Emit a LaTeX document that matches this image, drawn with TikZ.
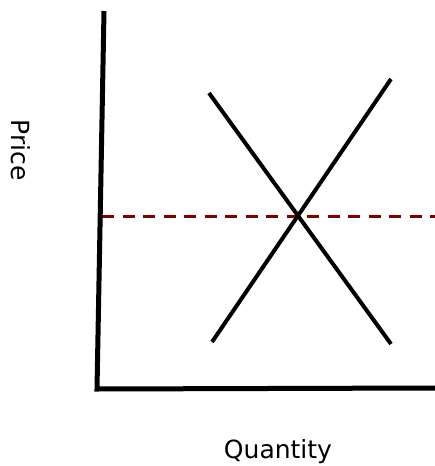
\documentclass[tikz,border=0pt]{standalone}
\usepackage{fontspec}
\setmainfont{DejaVu Sans}
\usepackage{xcolor}
\usepackage{tikz}
\usetikzlibrary{positioning,calc}
\definecolor{pricered}{RGB}{128,0,0}

\begin{document}
\begin{tikzpicture}[x=1pt, y=-1pt,
  axis/.style={line width=5pt, line join=miter},
  curve/.style={line width=4pt},
  level/.style={line width=3pt, pricered, dash pattern=on 12pt off 8.5pt},
  axislabel/.style={font=\fontsize{25}{30}\selectfont, inner sep=0pt}
]
  \useasboundingbox (0,0) rectangle (435,466);
  \coordinate (ytop) at (104,11);
  \coordinate (origin) at (97,389);
  \coordinate (xend) at (435,388);
  \coordinate (dtop) at (209,93);
  \coordinate (dbot) at (391,344);
  \coordinate (sbot) at (212,342);
  \coordinate (stop) at (391,79);
  \coordinate (pstart) at (102,216);
  \coordinate (pend) at (435,216);
  \draw[level] (pstart) -- (pend);
  \draw[curve] (dtop) -- (dbot);
  \draw[curve] (sbot) -- (stop);
  \draw[axis] (ytop) -- (origin) -- (xend);
  \node[axislabel, rotate=-90, anchor=base] (price) at (12,150) {Price};
  \node[axislabel, anchor=base] (quantity) at (278,458) {Quantity};
\end{tikzpicture}
\end{document}
